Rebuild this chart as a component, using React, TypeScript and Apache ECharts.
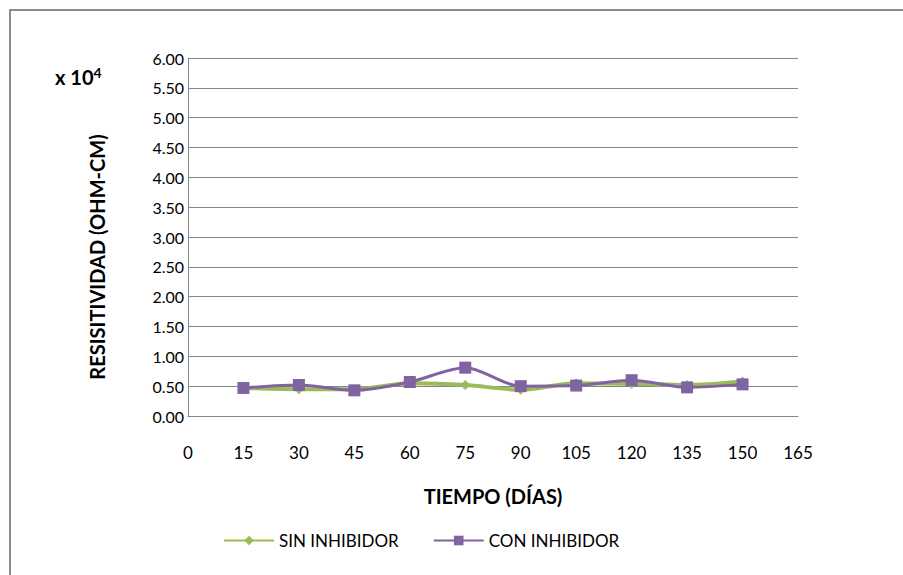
import React, { useEffect, useRef } from "react";
import * as echarts from "echarts";

const days = [15, 30, 45, 60, 75, 90, 105, 120, 135, 150];
const sinInhibidor = [0.47, 0.45, 0.45, 0.55, 0.52, 0.44, 0.55, 0.54, 0.52, 0.58];
const conInhibidor = [0.47, 0.52, 0.43, 0.57, 0.81, 0.5, 0.51, 0.6, 0.48, 0.53];
const seriesNames = ["SIN INHIBIDOR", "CON INHIBIDOR"];
const yTitle = "RESISITIVIDAD (OHM-CM)";
const xTitle = "TIEMPO (DÍAS)";

export default function App() {
  const ref = useRef<HTMLDivElement>(null);
  useEffect(() => {
    document.body.style.margin = "0";
    const chart = echarts.init(ref.current!, null, { renderer: "svg" });
    const font = "Lato, 'Open Sans', sans-serif";
    chart.setOption({
      animation: false,
      backgroundColor: "#ffffff",
      textStyle: { fontFamily: font },
      graphic: [
        {
          type: "rect",
          shape: { x: 10, y: 10, width: 1000, height: 1000 },
          style: { fill: "none", stroke: "#8c8c8c", lineWidth: 2 },
          silent: true,
        },
        {
          type: "text",
          left: 55,
          top: 65,
          style: {
            text: "{b|x 10}{s|4}",
            rich: {
              b: { fontSize: 20, fontWeight: "bold", fontFamily: font, fill: "#000" },
              s: { fontSize: 14, fontWeight: "bold", fontFamily: font, fill: "#000", verticalAlign: "top", padding: [0, 0, 9, 0] },
            },
          },
        },
        {
          type: "text",
          x: 97,
          y: 257,
          rotation: Math.PI / 2,
          style: {
            text: yTitle,
            fontSize: 20,
            fontWeight: "bold",
            fontFamily: font,
            fill: "#000",
            align: "center",
            verticalAlign: "middle",
          },
        },
      ],
      grid: { left: 188, right: 105, top: 58, bottom: 159, containLabel: false },
      legend: {
        bottom: 21,
        left: 218,
        itemWidth: 50,
        itemHeight: 12,
        itemGap: 34,
        textStyle: { fontSize: 17, color: "#000", fontFamily: font },
        data: seriesNames,
      },
      xAxis: {
        type: "value",
        min: 0,
        max: 165,
        interval: 15,
        name: xTitle,
        nameLocation: "middle",
        nameGap: 70,
        nameTextStyle: { fontSize: 20, fontWeight: "bold", color: "#000", fontFamily: font },
        axisLine: { show: true, lineStyle: { color: "#868686", width: 1 } },
        axisTick: { show: false },
        splitLine: { show: false },
        axisLabel: { fontSize: 17, color: "#000", margin: 28, fontFamily: font },
      },
      yAxis: {
        type: "value",
        min: 0,
        max: 6,
        interval: 0.5,
        axisLine: { show: true, lineStyle: { color: "#868686", width: 1 } },
        axisTick: { show: false },
        splitLine: { show: true, lineStyle: { color: "#868686", width: 1 } },
        axisLabel: { fontSize: 16, color: "#000", margin: 4, fontFamily: font, formatter: (v: number) => v.toFixed(2) },
      },
      series: [
        {
          name: seriesNames[0],
          type: "line",
          smooth: 0.3,
          data: days.map((d, i) => [d, sinInhibidor[i]]),
          symbol: "diamond",
          symbolSize: 10,
          itemStyle: { color: "#9bbb59" },
          lineStyle: { color: "#9bbb59", width: 4 },
        },
        {
          name: seriesNames[1],
          type: "line",
          smooth: 0.3,
          data: days.map((d, i) => [d, conInhibidor[i]]),
          symbol: "rect",
          symbolSize: 12,
          itemStyle: { color: "#8064a2" },
          lineStyle: { color: "#8064a2", width: 3 },
        },
      ],
    });
    return () => chart.dispose();
  }, []);
  return <div ref={ref} style={{ width: 903, height: 575 }} />;
}
